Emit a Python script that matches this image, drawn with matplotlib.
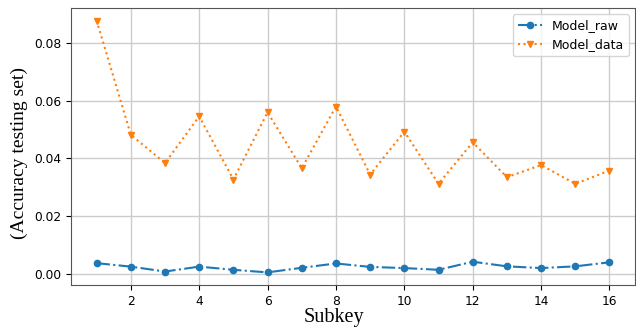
import numpy as np
import matplotlib.pyplot as plt

subkey = np.arange(1, 17)
model_raw = [0.0037, 0.0025, 0.0008, 0.0025, 0.0014, 0.0005, 0.0021, 0.0036,
             0.0024, 0.0020, 0.0014, 0.0042, 0.0026, 0.0020, 0.0026, 0.0040]
model_data = [0.0878, 0.0482, 0.0384, 0.0546, 0.0327, 0.0560, 0.0366, 0.0580,
              0.0344, 0.0493, 0.0312, 0.0456, 0.0335, 0.0377, 0.0312, 0.0358]

fig = plt.figure(figsize=(6.36, 3.31), dpi=100)
ax = fig.add_axes([0.1116, 0.139, 0.887, 0.837])

ax.plot(subkey, model_raw, '-.', marker='o', markersize=4.5, color='#1f77b4', label='Model_raw')
ax.plot(subkey, model_data, ':', marker='v', markersize=4.5, color='#ff7f0e', label='Model_data')

ax.set_xticks([2, 4, 6, 8, 10, 12, 14, 16])
ax.set_yticks([0.0, 0.02, 0.04, 0.06, 0.08])
ax.grid(True, color='#cccccc', linewidth=1)
ax.tick_params(labelsize=8.8)
for s in ax.spines.values():
    s.set_color('#555555')

ax.set_xlabel('Subkey', family='Liberation Serif', fontsize=14.5)
ax.set_ylabel('(Accuracy testing set)', family='Liberation Serif', fontsize=14)
ax.xaxis.set_label_coords(0.467, -0.083)
ax.yaxis.set_label_coords(-0.076, 0.475)
ax.legend(loc='upper right', fontsize=9, handlelength=1.9)

fig.savefig('out.png', dpi=100)
